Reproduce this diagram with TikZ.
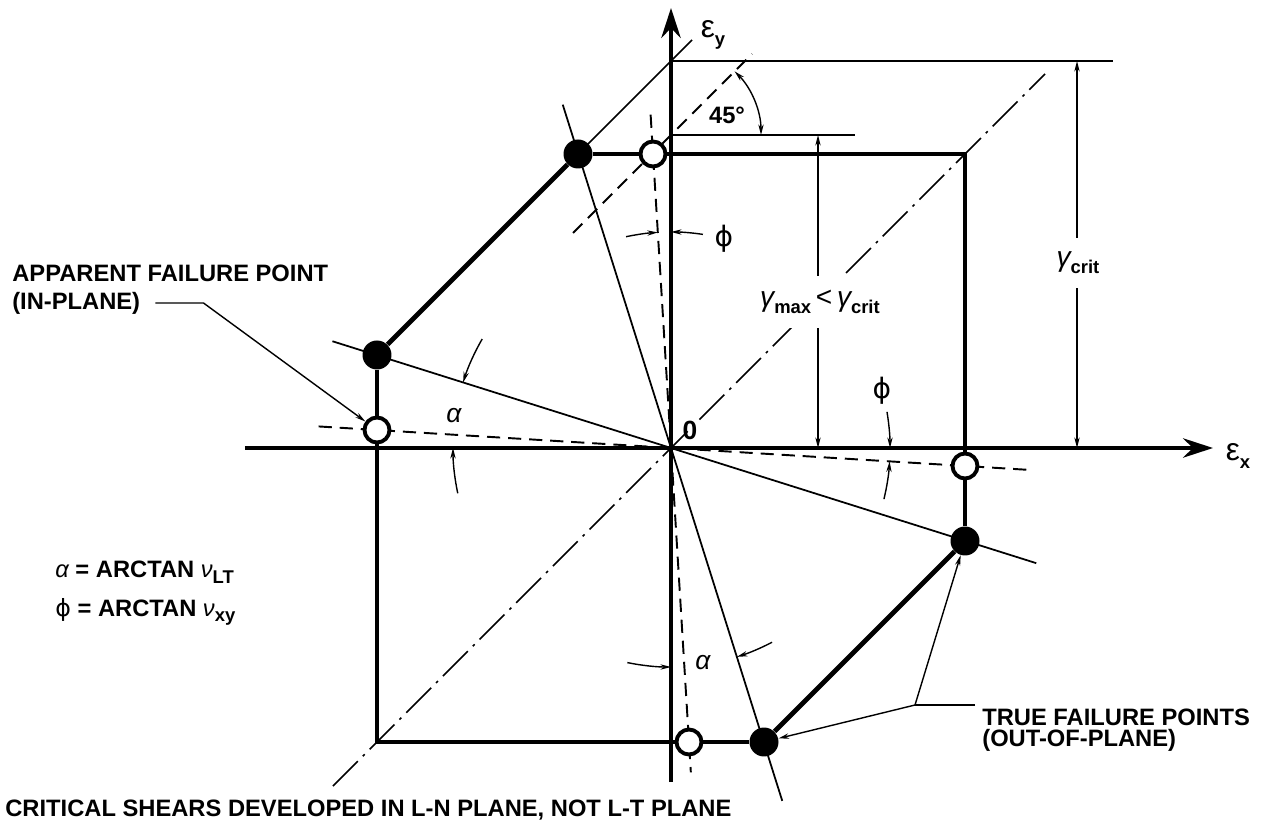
\documentclass[tikz,border=0pt]{standalone}
\usepackage{fontspec}
\setmainfont{Liberation Sans}
\newfontfamily\phifont{DejaVu Sans}
\usetikzlibrary{arrows.meta,positioning,backgrounds}

\newcommand{\lsub}[1]{\raisebox{-0.45ex}{\fontsize{10.5}{11}\selectfont\upshape\bfseries #1}}
\newcommand{\gphi}{{\phifont\mdseries ϕ}}

\begin{document}
\begin{tikzpicture}[
    x=0.02cm, y=0.02cm,
    font=\bfseries\fontsize{13.5}{16}\selectfont,
    axis/.style={line width=2.1pt, -{Stealth[length=17pt,width=11pt]}},
    octo/.style={line width=2.8pt, line join=miter},
    guide/.style={line width=1pt},
    dashguide/.style={line width=1.1pt, dash pattern=on 7.5pt off 4.5pt},
    chain/.style={line width=1pt, dash pattern=on 20pt off 4pt on 1.5pt off 4pt},
    dim/.style={line width=0.8pt, {Stealth[length=6pt,width=3pt]}-{Stealth[length=6pt,width=3pt]}},
    pointer/.style={line width=0.8pt, -{Stealth[length=6pt,width=3pt]}},
    fdot/.style={circle, fill=black, minimum size=0.58cm, inner sep=0pt},
    odot/.style={circle, draw=black, line width=2.2pt, fill=white, minimum size=0.5cm, inner sep=0pt},
    lbl/.style={inner sep=1pt},
    gaplbl/.style={fill=white, inner xsep=2pt, inner ysep=8pt},
    note/.style={anchor=west, inner sep=0pt}
]
\useasboundingbox (-671,-379) rectangle (599,448);

% guide lines through the origin
\coordinate (O) at (0,0);
\draw[chain] (-338,-338) -- (374,374);
\draw[guide] (162.5:355) -- (-17.5:383);
\draw[guide] (107.5:360) -- (-72.5:370);
\draw[dashguide] (176.5:353) -- (-3.5:362);
\draw[dashguide] (93.5:334) -- (-86.5:325);
\draw[dashguide] (-98,215) -- (81,394);
\draw[guide] (-93,294) -- (21,408);

% axes
\draw[axis] (-426,0) -- (542,0);
\draw[axis] (0,-334) -- (0,440);
\node[lbl] (ex) at (567,-8) {\fontsize{18}{18}\selectfont\mdseries ε\lsub{x}};
\node[lbl] (ey) at (42,413) {\fontsize{18}{18}\selectfont\mdseries ε\lsub{y}};
\node[lbl] (orig) at (19,18) {\fontsize{15}{15}\selectfont 0};

% reference levels and dimensions
\draw[guide] (0,387) -- (442,387);
\draw[guide] (0,313) -- (184,313);
\draw[dim] (0,313) ++(0:90) arc[start angle=0, end angle=45, radius=90];
\node[lbl] (deg) at (56,333) {45°};
\draw[dim] (147,313) -- (147,0);
\node[gaplbl] (gmax) at (149,146) {\fontsize{16}{16}\selectfont\mdseries\itshape γ\lsub{max}\,\upshape <\,\itshape γ\lsub{crit}};
\draw[dim] (406,387) -- (406,0);
\node[gaplbl] (gcrit) at (407,185) {\fontsize{16}{16}\selectfont\mdseries\itshape γ\lsub{crit}};

% angle marks
\draw[pointer] (150:218) arc[start angle=150, end angle=162.5, radius=218];
\draw[pointer] (192:218) arc[start angle=192, end angle=180, radius=218];
\node[lbl] (alow) at (-217,32) {\fontsize{15}{15}\selectfont\mdseries\itshape α};
\draw[pointer] (102:216) arc[start angle=102, end angle=93.5, radius=216];
\draw[pointer] (81.5:216) arc[start angle=81.5, end angle=90, radius=216];
\node[lbl] (ptop) at (53,209) {\fontsize{16}{16}\selectfont\gphi};
\draw[pointer] (9.5:219) arc[start angle=9.5, end angle=0, radius=219];
\draw[pointer] (-13.5:219) arc[start angle=-13.5, end angle=-3.5, radius=219];
\node[lbl] (pright) at (211,57) {\fontsize{16}{16}\selectfont\gphi};
\draw[pointer] (258.5:219) arc[start angle=258.5, end angle=270, radius=219];
\draw[pointer] (-62.5:219) arc[start angle=-62.5, end angle=-72.5, radius=219];
\node[lbl] (abot) at (32,-215) {\fontsize{15}{15}\selectfont\mdseries\itshape α};

% failure envelope
\coordinate (ctr) at (294,294);
\coordinate (cbl) at (-294,-294);
\node[fdot] (ftl) at (-93,294) {};
\node[odot] (otop) at (-18,294) {};
\node[odot] (oright) at (294,-18) {};
\node[fdot] (fright) at (294,-93) {};
\node[fdot] (fbot) at (93,-294) {};
\node[odot] (obot) at (18,-294) {};
\node[odot] (oleft) at (-294,18) {};
\node[fdot] (fleft) at (-294,93) {};

\draw[octo] (ftl) -- (otop);
\draw[octo] (otop) -- (ctr) -- (oright);
\draw[octo] (oright) -- (fright);
\draw[octo] (fright) -- (fbot);
\draw[octo] (fbot) -- (obot);
\draw[octo] (obot) -- (cbl) -- (oleft);
\draw[octo] (oleft) -- (fleft);
\draw[octo] (fleft) -- (ftl);

% notes
\node[note] (app1) at (-659,175) {APPARENT FAILURE POINT};
\node[note] (app2) at (-659,145) {(IN-PLANE)};
\draw[pointer] ([xshift=0.3cm]app2.east) -- ++(48,0) -- (oleft);

\coordinate (tfjoin) at (244,-257);
\node[note] (true1) at (311,-269) {TRUE FAILURE POINTS};
\node[note] (true2) at (311,-292) {(OUT-OF-PLANE)};
\draw[guide] (304,-257) -- (tfjoin);
\draw[pointer] (tfjoin) -- (fright);
\draw[pointer] (tfjoin) -- (fbot);

\node[note] (defa) at (-616,-124) {{\mdseries\itshape α} = ARCTAN {\mdseries\itshape ν}\lsub{LT}};
\node[note] (defp) at (-616,-164) {\gphi{} = ARCTAN {\mdseries\itshape ν}\lsub{xy}};

\node[note] (shear) at (-666,-362) {CRITICAL SHEARS DEVELOPED IN L-N PLANE, NOT L-T PLANE};

\end{tikzpicture}
\end{document}
